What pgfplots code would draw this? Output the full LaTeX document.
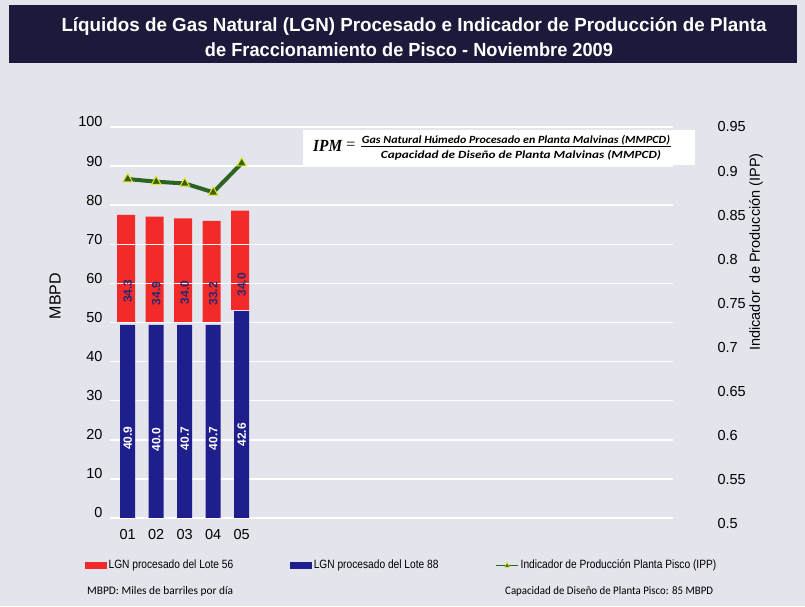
\documentclass[border=0pt]{standalone}
\usepackage{pgfplots}
\pgfplotsset{compat=1.18}
\usepackage{pgfplotstable}
\usepackage{fontspec}
\usepackage{graphicx}
\setmainfont{Liberation Sans}
\newfontfamily\narrowfont[FakeStretch=0.85]{Liberation Sans}
\newfontfamily\calib{Carlito}
\newfontfamily\serifbi{Liberation Serif}

\definecolor{bgc}{RGB}{228,228,236}
\definecolor{titlec}{RGB}{27,26,58}
\definecolor{lgnred}{RGB}{242,42,42}
\definecolor{lgnblue}{RGB}{30,30,140}
\definecolor{ippgreen}{RGB}{42,100,30}
\definecolor{mkfill}{RGB}{50,100,20}
\definecolor{mkedge}{RGB}{232,228,40}
\definecolor{navylab}{RGB}{40,40,110}

% x, label values (b: Lote 88, r: Lote 56), drawn heights, IPP
\pgfplotstableread{
x  b     r     bt    rb    rh    ipp
1  40.9  34.3  49.4  50.0  27.5  0.891
2  40.0  34.9  49.4  50.0  27.1  0.888
3  40.7  34.0  49.4  50.0  26.6  0.886
4  40.7  33.2  49.4  50.0  26.0  0.876
5  42.6  34.0  52.9  53.2  25.4  0.909
}\datatable

\pgfplotsset{
  base/.style={
    scale only axis, width=563pt, height=399pt,
    at={(110pt,80pt)}, anchor=south west,
    xmin=0.379, xmax=20.13,
    /pgf/number format/assume math mode=true,
    tick label style={font=\fontsize{14.5}{16}\selectfont},
  },
}

\begin{document}
\begin{tikzpicture}[x=1pt,y=1pt]
\useasboundingbox (0,0) rectangle (805,606);
\fill[bgc] (0,0) rectangle (805,606);
% title bar
\fill[titlec] (9,543) rectangle (797,601);
\node[text=white, inner sep=0pt] at (414,579)
  {\resizebox{705pt}{\height}{\fontsize{19}{22}\selectfont\bfseries Líquidos de Gas Natural (LGN) Procesado e Indicador de Producción de Planta}};
\node[text=white, inner sep=0pt] at (409,556)
  {\resizebox{408pt}{\height}{\fontsize{19}{22}\selectfont\bfseries de Fraccionamiento de Pisco - Noviembre 2009}};

% axis 1: grid + red bars (grid on top of red)
\begin{axis}[base, ymin=-2.05, ymax=100,
  ybar stacked, axis on top,
  axis line style={draw=none}, tick style={draw=none},
  xtick={1,2,3,4,5}, xticklabels={01,02,03,04,05},
  ytick={0,10,20,30,40,50,60,70,80,90,100},
  ymajorgrids, grid style={white, line width=1.5pt},
  yticklabel style={anchor=east, xshift=-4pt, yshift=5pt},
  xticklabel style={anchor=north, yshift=0pt},
]
\addplot[draw=none, fill=none, bar width=18pt, bar shift=-1.5pt] table[x=x, y=rb] {\datatable};
\addplot[draw=none, fill=lgnred, bar width=18pt, bar shift=-1.5pt] table[x=x, y=rh] {\datatable};
\end{axis}

% axis 2: blue bars and data labels
\begin{axis}[base, ymin=-2.05, ymax=100, hide axis]
\addplot[ybar, draw=none, fill=lgnblue, bar width=15pt] table[x=x, y=bt] {\datatable};
\addplot[draw=none, mark=none, nodes near coords, point meta=explicit symbolic,
  nodes near coords style={rotate=90, anchor=center, text=white,
    font=\fontsize{12}{14}\selectfont\bfseries}]
  table[x=x, y expr=\thisrow{b}/2, meta=b] {\datatable};
\addplot[draw=none, mark=none, nodes near coords, point meta=explicit symbolic,
  nodes near coords style={rotate=90, anchor=center, text=navylab,
    font=\fontsize{12}{14}\selectfont\bfseries}]
  table[x=x, y expr=\thisrow{b}+\thisrow{r}/2, meta=r] {\datatable};
\end{axis}

% axis 3: IPP on right axis
\begin{axis}[base, ymin=0.4977, ymax=0.95,
  axis x line=none, axis y line*=right,
  y axis line style={draw=none}, tick style={draw=none},
  ytick={0.5,0.55,0.6,0.65,0.7,0.75,0.8,0.85,0.9,0.95},
  yticklabels={0.5,0.55,0.6,0.65,0.7,0.75,0.8,0.85,0.9,0.95},
  yticklabel style={anchor=west, xshift=41pt},
  legend columns=3,
  legend cell align=left,
  legend style={at={(axis description cs:-0.0444,-0.098)}, anchor=west,
    draw=none, fill=none, inner sep=0pt,
    font=\narrowfont\fontsize{12}{14}\selectfont,
    /tikz/every odd column/.append style={column sep=0pt},
    /tikz/every even column/.append style={column sep=55pt},
    nodes={inner xsep=2pt}},
]
\addlegendimage{legend image code/.code={\fill[lgnred] (0pt,-3pt) rectangle (21pt,3pt);}}
\addlegendentry{LGN procesado del Lote 56}
\addlegendimage{legend image code/.code={\fill[lgnblue] (0pt,-3pt) rectangle (21pt,3pt);}}
\addlegendentry{LGN procesado del Lote 88}
\addplot[color=ippgreen, line width=4pt, mark=triangle*,
  mark options={fill=mkfill, draw=mkedge, line width=1pt, mark size=5.5pt},
  legend image code/.code={
    \draw[ippgreen, line width=1.2pt] (0pt,0pt) -- (22pt,0pt);
    \draw[fill=mkfill, draw=mkedge, line width=0.6pt] (8.5pt,-2pt) -- (13.5pt,-2pt) -- (11pt,2.5pt) -- cycle;}]
  table[x=x, y=ipp] {\datatable};
\addlegendentry{Indicador de Producción Planta Pisco (IPP)}
\end{axis}

% axis titles
\node[rotate=90, font=\fontsize{16}{18}\selectfont] at (55,310) {MBPD};
\node[rotate=90, font=\fontsize{14.5}{17}\selectfont] at (756,354) {Indicador\ \ de Producción (IPP)};

% formula box
\fill[white] (303,441) rectangle (695,476);
\node[inner sep=0pt, anchor=west] at (313,460)
  {\resizebox{29pt}{\height}{\serifbi\fontsize{17}{19}\selectfont\bfseries\itshape IPM}};
\node[inner sep=0pt] at (351,460) {\serifbi\fontsize{16}{18}\selectfont =};
\node[inner sep=0pt] at (516,466)
  {\resizebox{308pt}{\height}{\calib\fontsize{11}{13}\selectfont\bfseries\itshape Gas Natural Húmedo Procesado en Planta Malvinas (MMPCD)}};
\draw[black, line width=0.6pt] (361,459.3) -- (671,459.3);
\node[inner sep=0pt] at (521,451)
  {\resizebox{280pt}{\height}{\calib\fontsize{11}{13}\selectfont\bfseries\itshape Capacidad de Diseño de Planta Malvinas (MMPCD)}};

% footnotes
\node[anchor=west, inner sep=0pt] at (87,15)
  {\resizebox{146pt}{\height}{\calib\fontsize{11.5}{13}\selectfont MBPD: Miles de barriles por día}};
\node[anchor=west, inner sep=0pt] at (505,15)
  {\resizebox{208pt}{\height}{\calib\fontsize{11.5}{13}\selectfont Capacidad de Diseño de Planta Pisco: 85 MBPD}};
\end{tikzpicture}
\end{document}
